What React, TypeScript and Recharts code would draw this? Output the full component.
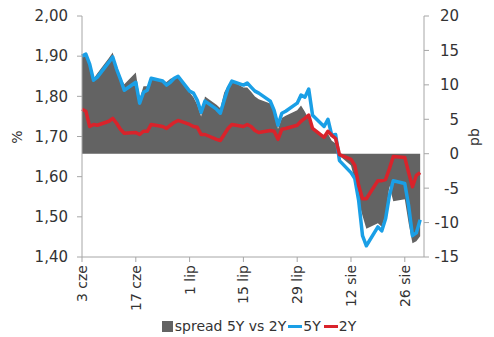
import React from 'react';
import { ComposedChart, Area, Line, XAxis, YAxis, Legend } from 'recharts';

// calendar days counted from 3 cze (business days only)
const days = [
  0, 1, 2, 3, 4, 7, 8, 9, 10, 11, 14, 15, 16, 17, 18, 21, 22, 23, 24, 25,
  28, 29, 30, 31, 32, 35, 36, 37, 38, 39, 42, 43, 44, 45, 46, 49, 50, 51, 52, 53,
  56, 57, 58, 59, 60, 63, 64, 65, 66, 67, 70, 71, 72, 73, 74, 77, 78, 79, 80, 81,
  84, 85, 86, 87, 88,
];

const y5 = [
  1.9, 1.905, 1.88, 1.84, 1.848, 1.885, 1.898, 1.868, 1.843, 1.815,
  1.835, 1.783, 1.81, 1.815, 1.845, 1.838, 1.828, 1.835, 1.845, 1.85,
  1.813, 1.808, 1.79, 1.76, 1.788, 1.768, 1.758, 1.79, 1.82, 1.838,
  1.828, 1.833, 1.823, 1.813, 1.808, 1.788, 1.765, 1.728, 1.758, 1.763,
  1.783, 1.803, 1.798, 1.818, 1.753, 1.725, 1.743, 1.703, 1.705, 1.64,
  1.61, 1.595, 1.54, 1.453, 1.428, 1.475, 1.465, 1.495, 1.553, 1.59,
  1.583, 1.528, 1.453, 1.46, 1.493,
];

const y2 = [
  1.768, 1.763, 1.725, 1.73, 1.728, 1.738, 1.745, 1.733, 1.718, 1.708,
  1.71, 1.705, 1.713, 1.713, 1.73, 1.725, 1.72, 1.728, 1.735, 1.74,
  1.73, 1.725, 1.723, 1.705, 1.705, 1.693, 1.69, 1.705, 1.72, 1.73,
  1.725, 1.73, 1.725, 1.715, 1.71, 1.715, 1.713, 1.693, 1.718, 1.72,
  1.728, 1.738, 1.745, 1.753, 1.72, 1.698, 1.713, 1.703, 1.695, 1.655,
  1.643, 1.628, 1.578, 1.545, 1.545, 1.59, 1.59, 1.593, 1.62, 1.65,
  1.648, 1.61, 1.575, 1.603, 1.61,
];

const spread = [
  14.1, 14.6, 13.1, 10.9, 11.7, 13.9, 14.7, 12.5, 11.1, 10.1,
  11.8, 8.0, 9.8, 9.8, 10.8, 10.6, 10.4, 10.9, 11.1, 11.2,
  8.9, 8.2, 7.1, 5.4, 8.3, 7.1, 6.6, 8.9, 9.9, 10.6,
  9.6, 9.6, 9.0, 8.3, 7.9, 7.3, 6.7, 3.6, 5.2, 5.5,
  6.3, 7.0, 6.1, 5.0, 3.8, 2.2, 2.9, 1.9, 1.5, -0.3,
  -1.7, -3.9, -6.9, -9.0, -10.9, -10.1, -10.6, -8.9, -4.7, -6.9,
  -6.6, -10.1, -13.0, -12.7, -12.0,
];

const xTicks = [0, 14, 28, 42, 56, 70, 84];
const xLabels = ['3 cze', '17 cze', '1 lip', '15 lip', '29 lip', '12 sie', '26 sie'];
const leftTicks = [1.4, 1.5, 1.6, 1.7, 1.8, 1.9, 2.0];
const rightTicks = [-15, -10, -5, 0, 5, 10, 15, 20];

const data = days.map((d, i) => ({ day: d, y5: y5[i], y2: y2[i], spread: spread[i] }));

const FONT = "'DejaVu Sans', Verdana, sans-serif";
const TXT = '#333333';
const AXIS = '#a6a6a6';
const GRAY = '#636363';
const BLUE = '#1a9fe6';
const RED = '#d9232b';

const XTick = ({ x, y, payload }: any) => {
  const i = xTicks.indexOf(payload.value);
  const bx = x + 5;
  const by = y + 1;
  return (
    <text x={bx} y={by} transform={`rotate(-90 ${bx} ${by})`} textAnchor="end" fontSize={14} fontFamily={FONT} fill={TXT}>
      {xLabels[i]}
    </text>
  );
};

const RightTick = ({ x, y, payload }: any) => (
  <text x={x + 28} y={y} dy="0.36em" textAnchor="end" fontSize={15} fontFamily={FONT} fill={TXT}>
    {payload.value}
  </text>
);

const AxisTitle = ({ px, py, text }: any) => (
  <text x={px} y={py} transform={`rotate(-90 ${px} ${py})`} textAnchor="middle" fontSize={14} fontFamily={FONT} fill={TXT}>
    {text}
  </text>
);

const LegendBox = () => (
  <div style={{ display: 'flex', justifyContent: 'center', alignItems: 'center', height: 22, paddingLeft: 24, fontFamily: FONT, fontSize: 14, color: TXT }}>
    <span style={{ width: 11, height: 11, background: GRAY, display: 'inline-block', marginRight: 2 }} />
    <span>spread 5Y vs 2Y</span>
    <span style={{ width: 14, height: 3, background: BLUE, display: 'inline-block', margin: '0 1px 0 2px' }} />
    <span>5Y</span>
    <span style={{ width: 14, height: 3, background: RED, display: 'inline-block', margin: '0 1px 0 3px' }} />
    <span>2Y</span>
  </div>
);

export default function App() {
  return (
    <div style={{ position: 'absolute', left: 0, top: 0, width: 494, height: 337, background: '#fff' }}>
      <ComposedChart width={494} height={337} data={data} margin={{ top: 16, right: 0, bottom: 0, left: 0 }}>
        <XAxis
          dataKey="day"
          type="number"
          domain={[0, 89]}
          ticks={xTicks}
          interval={0}
          height={58}
          tickSize={5}
          tickMargin={2}
          stroke={AXIS}
          tick={<XTick />}
        />
        <YAxis
          yAxisId="left"
          domain={[1.4, 2.0]}
          ticks={leftTicks}
          interval={0}
          width={82}
          tickSize={5}
          tickMargin={9}
          stroke={AXIS}
          tickFormatter={(v: number) => v.toFixed(2).replace('.', ',')}
          tick={{ fontSize: 15, fontFamily: FONT, fill: TXT }}
          label={<AxisTitle px={22} py={137} text="%" />}
        />
        <YAxis
          yAxisId="right"
          orientation="right"
          domain={[-15, 20]}
          ticks={rightTicks}
          interval={0}
          width={70}
          tickSize={5}
          tickMargin={2}
          stroke={AXIS}
          tick={<RightTick />}
          label={<AxisTitle px={479} py={137} text="pb" />}
        />
        <Legend verticalAlign="bottom" height={22} content={<LegendBox />} />
        <Area
          yAxisId="right"
          dataKey="spread"
          type="linear"
          fill={GRAY}
          fillOpacity={1}
          stroke="none"
          isAnimationActive={false}
        />
        <Line yAxisId="left" dataKey="y5" type="linear" stroke={BLUE} strokeWidth={3.5} strokeLinejoin="round" dot={false} isAnimationActive={false} />
        <Line yAxisId="left" dataKey="y2" type="linear" stroke={RED} strokeWidth={3.5} strokeLinejoin="round" dot={false} isAnimationActive={false} />
      </ComposedChart>
    </div>
  );
}
